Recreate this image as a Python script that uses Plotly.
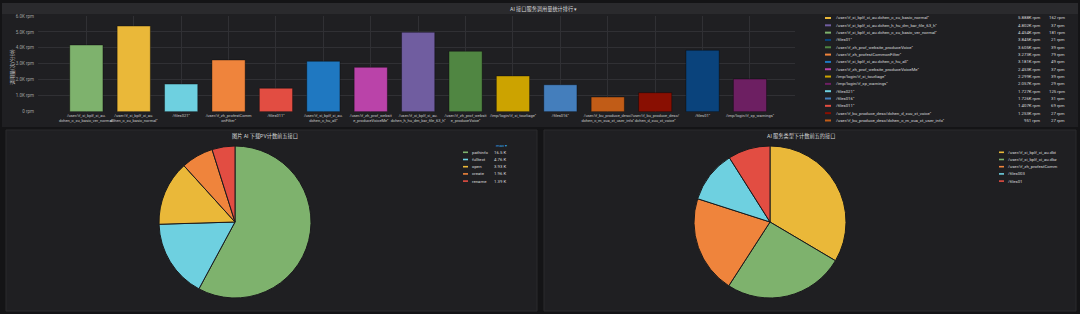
import plotly.graph_objects as go

W, H = 1080, 314

# ---------------- data ----------------
bar_names = [
    "/user/if_xi_bplf_xi_au.dchen_c_xu_basic_ver_normal",
    "/user/if_xi_bplf_xi_au.dchen_c_xu_basic_normal",
    "/files021",
    "/user/if_zh_profestCommonFilter",
    "/files011",
    "/user/if_xi_bplf_xi_au.dchen_c_hu_all",
    "/user/if_zh_prof_website_produceVoiceMe",
    "/user/if_xi_bplf_xi_au.dchen_h_hu_dm_bar_file_63_h",
    "/user/if_zh_prof_website_produceVoice",
    "/imp/login/if_xi_tourliage",
    "/files016",
    "/user/if_bu_produce_desc/dchen_c_m_xua_xt_user_info",
    "/user/if_bu_produce_desc/dchen_d_xuu_xt_voice",
    "/files01",
    "/imp/login/if_xp_warnings",
]
bar_values = [4180, 5370, 1730, 3240, 1470, 3160, 2780, 4980, 3790, 2240, 1690, 920, 1190, 3850, 2050]
bar_colors = ["#7EB26D", "#EAB839", "#6ED0E0", "#EF843C", "#E24D42", "#1F78C1", "#BA43A9",
              "#705DA0", "#508642", "#CCA300", "#447EBC", "#C15C17", "#890F02", "#0A437C", "#6D1F62"]
legend_max = [4454, 5888, 1727, 3273, 1407, 3181, 2453, 4802, 3605, 2299, 1726, 951, 1253, 3845, 2057]
legend_min = [181, 162, 125, 79, 69, 49, 37, 37, 39, 39, 31, 27, 27, 21, 29]

yticks = [0, 1000, 2000, 3000, 4000, 5000, 6000]

pie1_labels = ["pathinfo", "fulltext", "open", "create", "rename"]
pie1_values = [16540, 4760, 3930, 1957, 1393]
pie1_colors = ["#7EB26D", "#6ED0E0", "#EAB839", "#EF843C", "#E24D42"]

pie2_labels = ["/user/if_xi_bplf_xi_au.dbt", "/user/if_xi_bplf_xi_au.dbz",
               "/user/if_zh_profestComm", "/files003", "/files01"]
pie2_values = [5230, 4000, 3250, 1730, 1400]
pie2_colors = ["#EAB839", "#7EB26D", "#EF843C", "#6ED0E0", "#E24D42"]

title_top = "AI 接口服务调用量统计排行 ▾"
title_pie1 = "图片 AI 下载PV计数前五接口"
title_pie2 = "AI 服务类型下计数前五的接口"
y_title = "调用量(次/分钟)"

# ---------------- helpers ----------------
def px(x):
    return x / W

def py(y):
    return 1 - y / H

def fmt_rpm(v):
    return f"{v/1000:.3f}K rpm" if v >= 1000 else f"{v:.0f} rpm"

def fmt_k(v):
    k = v / 1000
    return f"{k:.1f} K" if k >= 10 else f"{k:.2f} K"

def wrap_label(name):
    if len(name) <= 26:
        return name + '"'
    cut = name.rfind(".", 0, 26)
    if cut < 0:
        cut = name.rfind("/", 0, 26)
    if cut < 6:
        cut = 22
    return name[:cut + 1] + "<br>" + name[cut + 1:] + '"'

FONT = "Roboto, Noto Sans CJK SC, sans-serif"
TXT = "#d8d9da"
GRID = "#303034"
PAGE = "#141416"
PANEL = "#1f1f22"
STRIP = "#2a2a2d"
SMALL = 4.3

fig = go.Figure()

tick_labels = [wrap_label(n) for n in bar_names]
fig.add_trace(go.Bar(
    x=list(range(len(bar_names))), y=bar_values,
    marker=dict(color=bar_colors, line=dict(color="rgba(0,0,0,0.35)", width=1)),
    width=0.7, showlegend=False, hoverinfo="skip",
    xaxis="x", yaxis="y",
))

fig.add_trace(go.Pie(
    labels=pie1_labels, values=pie1_values, sort=False, direction="clockwise", rotation=0,
    marker=dict(colors=pie1_colors, line=dict(color="#1a1a1c", width=1)),
    textinfo="none", hoverinfo="skip", showlegend=False,
    domain=dict(x=[px(159), px(311)], y=[py(298), py(146)]),
))
fig.add_trace(go.Pie(
    labels=pie2_labels, values=pie2_values, sort=False, direction="clockwise", rotation=0,
    marker=dict(colors=pie2_colors, line=dict(color="#1a1a1c", width=1)),
    textinfo="none", hoverinfo="skip", showlegend=False,
    domain=dict(x=[px(694), px(846)], y=[py(298), py(146)]),
))

shapes = []
# panels
shapes.append(dict(type="rect", xref="paper", yref="paper", x0=px(2), x1=px(1078), y0=py(127), y1=py(3),
                   fillcolor=PANEL, line=dict(width=0), layer="below"))
shapes.append(dict(type="rect", xref="paper", yref="paper", x0=px(2), x1=px(1078), y0=py(14), y1=py(3),
                   fillcolor=STRIP, line=dict(width=0), layer="below"))
shapes.append(dict(type="rect", xref="paper", yref="paper", x0=px(6), x1=px(537), y0=py(311), y1=py(130),
                   fillcolor=PANEL, line=dict(color="#2a2a2d", width=1), layer="below"))
shapes.append(dict(type="rect", xref="paper", yref="paper", x0=px(544), x1=px(1076), y0=py(311), y1=py(130),
                   fillcolor=PANEL, line=dict(color="#2a2a2d", width=1), layer="below"))

annotations = []
annotations.append(dict(text=title_top, x=px(543), y=py(9), xref="paper", yref="paper",
                        showarrow=False, font=dict(size=5.2, color=TXT, family=FONT), xanchor="center", yanchor="middle"))
annotations.append(dict(text=title_pie1, x=px(265), y=py(136), xref="paper", yref="paper",
                        showarrow=False, font=dict(size=5.2, color=TXT, family=FONT), xanchor="center", yanchor="middle"))
annotations.append(dict(text=title_pie2, x=px(801), y=py(136), xref="paper", yref="paper",
                        showarrow=False, font=dict(size=5.2, color=TXT, family=FONT), xanchor="center", yanchor="middle"))
annotations.append(dict(text=y_title, x=px(12), y=py(67), xref="paper", yref="paper", textangle=-90,
                        showarrow=False, font=dict(size=5, color="#bfbfbf", family=FONT),
                        xanchor="center", yanchor="middle"))

# top legend (sorted by max)
order = sorted(range(len(bar_names)), key=lambda i: -legend_max[i])
for r, i in enumerate(order):
    yy = 18 + 7.32 * r
    shapes.append(dict(type="rect", xref="paper", yref="paper", x0=px(825), x1=px(831),
                       y0=py(yy + 1), y1=py(yy - 1), fillcolor=bar_colors[i], line=dict(width=0)))
    annotations.append(dict(text=bar_names[i] + '"', x=px(834), y=py(yy), xref="paper", yref="paper",
                            showarrow=False, font=dict(size=SMALL, color=TXT, family=FONT),
                            xanchor="left", yanchor="middle"))
    annotations.append(dict(text=fmt_rpm(legend_max[i]), x=px(1042), y=py(yy), xref="paper", yref="paper",
                            showarrow=False, font=dict(size=SMALL, color=TXT, family=FONT),
                            xanchor="right", yanchor="middle"))
    annotations.append(dict(text=fmt_rpm(legend_min[i]), x=px(1067), y=py(yy), xref="paper", yref="paper",
                            showarrow=False, font=dict(size=SMALL, color=TXT, family=FONT),
                            xanchor="right", yanchor="middle"))

# pie1 legend
annotations.append(dict(text="max ▾", x=px(509), y=py(145), xref="paper", yref="paper",
                        showarrow=False, font=dict(size=SMALL, color="#33a2e5", family=FONT),
                        xanchor="right", yanchor="middle"))
for r, (lab, val, col) in enumerate(zip(pie1_labels, pie1_values, pie1_colors)):
    yy = 152.3 + 7.2 * r
    shapes.append(dict(type="rect", xref="paper", yref="paper", x0=px(463), x1=px(468),
                       y0=py(yy + 0.8), y1=py(yy - 0.8), fillcolor=col, line=dict(width=0)))
    annotations.append(dict(text=lab, x=px(470), y=py(yy), xref="paper", yref="paper",
                            showarrow=False, font=dict(size=SMALL, color=TXT, family=FONT),
                            xanchor="left", yanchor="middle"))
    annotations.append(dict(text=fmt_k(val), x=px(508), y=py(yy), xref="paper", yref="paper",
                            showarrow=False, font=dict(size=SMALL, color=TXT, family=FONT),
                            xanchor="right", yanchor="middle"))

# pie2 legend
for r, (lab, col) in enumerate(zip(pie2_labels, pie2_colors)):
    yy = 152.3 + 7.2 * r
    shapes.append(dict(type="rect", xref="paper", yref="paper", x0=px(999), x1=px(1004),
                       y0=py(yy + 0.8), y1=py(yy - 0.8), fillcolor=col, line=dict(width=0)))
    annotations.append(dict(text=lab, x=px(1006), y=py(yy), xref="paper", yref="paper",
                            showarrow=False, font=dict(size=SMALL, color=TXT, family=FONT),
                            xanchor="left", yanchor="middle"))

fig.update_layout(
    width=W, height=H, margin=dict(l=0, r=0, t=0, b=0),
    paper_bgcolor=PAGE, plot_bgcolor="rgba(0,0,0,0)",
    font=dict(family=FONT, color=TXT),
    shapes=shapes, annotations=annotations,
    xaxis=dict(domain=[px(38), px(795)], range=[-1.02, 14.95], tickmode="array",
               tickvals=list(range(len(bar_names))), ticktext=tick_labels, tickangle=0,
               tickfont=dict(size=4, color="#c8c8c8"), showgrid=True, gridcolor=GRID, gridwidth=1,
               zeroline=False, showline=False, ticks="", fixedrange=True, automargin=False),
    yaxis=dict(domain=[py(111.7), py(16)], range=[0, 6000], tickmode="array", tickvals=yticks,
               ticktext=[("0 rpm" if v == 0 else f"{v/1000:.1f}K rpm") for v in yticks],
               tickfont=dict(size=4.5, color="#a0a0a0"), showgrid=True, gridcolor=GRID, gridwidth=1,
               zeroline=False, showline=False, ticks="", ticklabelstandoff=3, automargin=False),
)

fig.write_html("out.html")
